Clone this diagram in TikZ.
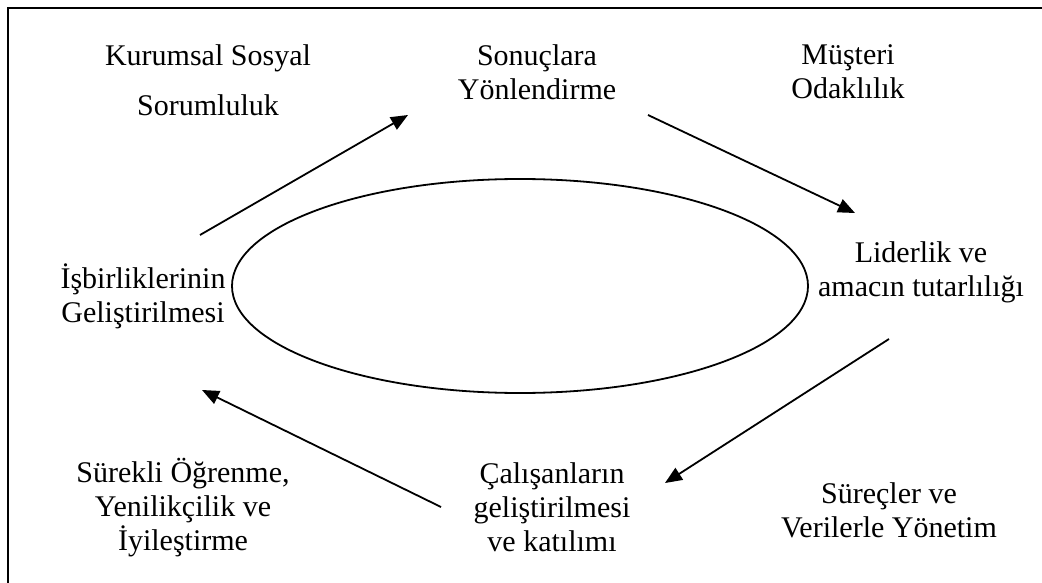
\documentclass[tikz,border=0pt]{standalone}
\usepackage{fontspec}
\setmainfont{Liberation Serif}
\usetikzlibrary{arrows.meta}

\begin{document}
\begin{tikzpicture}[
    x=1pt, y=-1pt,
    txtbox/.style={align=center, inner sep=0pt, font=\fontsize{30}{34}\selectfont},
    arrow/.style={-{Triangle[length=17pt,width=14pt]}, line width=1.8pt},
    frame/.style={line width=2.8pt}
]
\useasboundingbox (0,0) rectangle (1042,583);

% Cerceve
\begin{scope}
\clip (0,0) rectangle (1042,583);
\draw[frame] (8,8) rectangle (1080,620);
\end{scope}

% Elips
\draw[line width=1.8pt] (520,286) ellipse [x radius=288pt, y radius=107pt];

% Metinler
\node[txtbox] (kss) at (208,80) {Kurumsal Sosyal\\[16pt]Sorumluluk};
\node[txtbox] (son) at (537,72) {Sonuçlara\\Yönlendirme};
\node[txtbox] (mus) at (848,72) {Müşteri\\Odaklılık};
\node[txtbox] (lid) at (921,272) {Liderlik ve\\amacın tutarlılığı};
\node[txtbox] (isb) at (143,296) {İşbirliklerinin\\Geliştirilmesi};
\node[txtbox] (sur) at (183,508) {Sürekli Öğrenme,\\Yenilikçilik ve\\İyileştirme};
\node[txtbox] (cal) at (552,507) {Çalışanların\\geliştirilmesi\\ve katılımı};
\node[txtbox] (svy) at (889,510) {Süreçler ve\\Verilerle Yönetim};

% Ok uclari
\coordinate (isb-out) at (200,235);
\coordinate (son-in) at (408,115);
\coordinate (son-out) at (648,115);
\coordinate (lid-in) at (855,213);
\coordinate (lid-out) at (889,339);
\coordinate (cal-in) at (665,483);
\coordinate (cal-out) at (441,507);
\coordinate (isb-in) at (202,390);

% Oklar
\draw[arrow] (isb-out) -- (son-in);
\draw[arrow] (son-out) -- (lid-in);
\draw[arrow] (lid-out) -- (cal-in);
\draw[arrow] (cal-out) -- (isb-in);

\end{tikzpicture}
\end{document}
